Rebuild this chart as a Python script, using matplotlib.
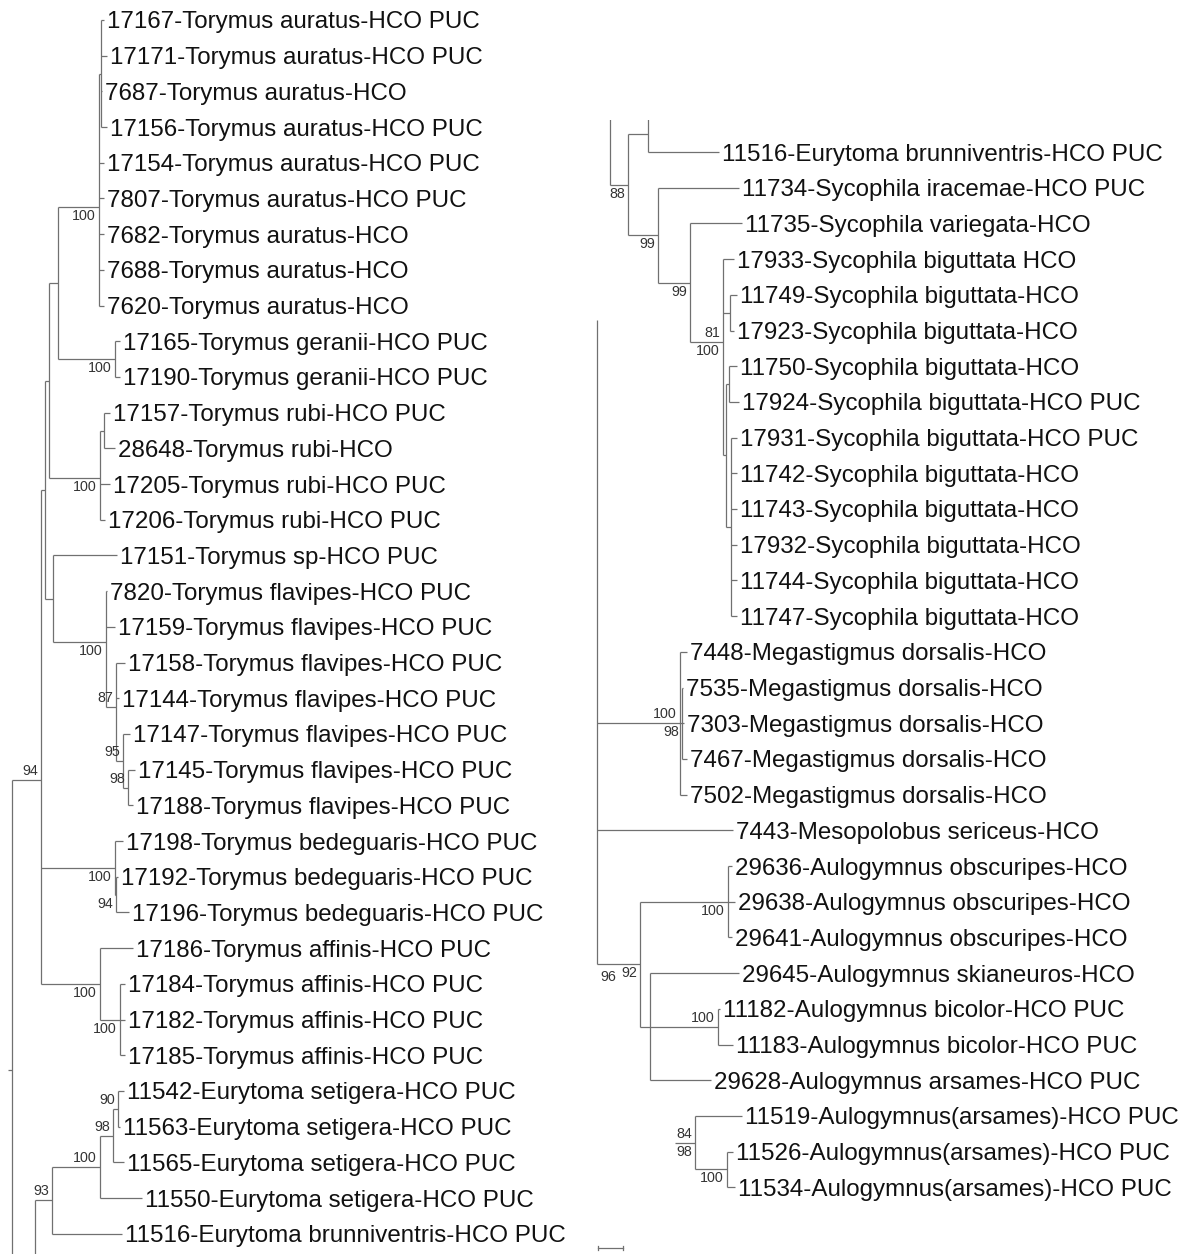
import numpy as np
import matplotlib
matplotlib.use("Agg")
import matplotlib.pyplot as plt

plt.rcParams['font.family'] = ['Liberation Sans', 'DejaVu Sans']

# ---- data -------------------------------------------------------------
left_labels = [
    "17167-Torymus auratus-HCO PUC", "17171-Torymus auratus-HCO PUC",
    "7687-Torymus auratus-HCO", "17156-Torymus auratus-HCO PUC",
    "17154-Torymus auratus-HCO PUC", "7807-Torymus auratus-HCO PUC",
    "7682-Torymus auratus-HCO", "7688-Torymus auratus-HCO",
    "7620-Torymus auratus-HCO", "17165-Torymus geranii-HCO PUC",
    "17190-Torymus geranii-HCO PUC", "17157-Torymus rubi-HCO PUC",
    "28648-Torymus rubi-HCO", "17205-Torymus rubi-HCO PUC",
    "17206-Torymus rubi-HCO PUC", "17151-Torymus sp-HCO PUC",
    "7820-Torymus flavipes-HCO PUC", "17159-Torymus flavipes-HCO PUC",
    "17158-Torymus flavipes-HCO PUC", "17144-Torymus flavipes-HCO PUC",
    "17147-Torymus flavipes-HCO PUC", "17145-Torymus flavipes-HCO PUC",
    "17188-Torymus flavipes-HCO PUC", "17198-Torymus bedeguaris-HCO PUC",
    "17192-Torymus bedeguaris-HCO PUC", "17196-Torymus bedeguaris-HCO PUC",
    "17186-Torymus affinis-HCO PUC", "17184-Torymus affinis-HCO PUC",
    "17182-Torymus affinis-HCO PUC", "17185-Torymus affinis-HCO PUC",
    "11542-Eurytoma setigera-HCO PUC", "11563-Eurytoma setigera-HCO PUC",
    "11565-Eurytoma setigera-HCO PUC", "11550-Eurytoma setigera-HCO PUC",
    "11516-Eurytoma brunniventris-HCO PUC",
]

right_labels = [
    "11516-Eurytoma brunniventris-HCO PUC", "11734-Sycophila iracemae-HCO PUC",
    "11735-Sycophila variegata-HCO", "17933-Sycophila biguttata HCO",
    "11749-Sycophila biguttata-HCO", "17923-Sycophila biguttata-HCO",
    "11750-Sycophila biguttata-HCO", "17924-Sycophila biguttata-HCO PUC",
    "17931-Sycophila biguttata-HCO PUC", "11742-Sycophila biguttata-HCO",
    "11743-Sycophila biguttata-HCO", "17932-Sycophila biguttata-HCO",
    "11744-Sycophila biguttata-HCO", "11747-Sycophila biguttata-HCO",
    "7448-Megastigmus dorsalis-HCO", "7535-Megastigmus dorsalis-HCO",
    "7303-Megastigmus dorsalis-HCO", "7467-Megastigmus dorsalis-HCO",
    "7502-Megastigmus dorsalis-HCO", "7443-Mesopolobus sericeus-HCO",
    "29636-Aulogymnus obscuripes-HCO", "29638-Aulogymnus obscuripes-HCO",
    "29641-Aulogymnus obscuripes-HCO", "29645-Aulogymnus skianeuros-HCO",
    "11182-Aulogymnus bicolor-HCO PUC", "11183-Aulogymnus bicolor-HCO PUC",
    "29628-Aulogymnus arsames-HCO PUC", "11519-Aulogymnus(arsames)-HCO PUC",
    "11526-Aulogymnus(arsames)-HCO PUC", "11534-Aulogymnus(arsames)-HCO PUC",
]

# newick topology: leaves are row indices into the label lists,
# "~r" = branch continuing off the page (hidden leaf at row r),
# node labels "a/b" = support above / below the stem
left_tree = (
    "(((("
    "(((0:3,1:6,2:1,3:6):2,4:5,5:5,6:5,7:5,8:5)100:41,(9:5,10:5)100:57):9,"
    "((11:6,12:11):4,13:10,14:5)100:51):4,"
    "(15:64,(16:1,17:9,(18:9,19:3,(20:7,(21:7,22:5)98/:5)95/:7)87/:10)100:53):8):4,"
    "(23:8,(24:2,25:13)94:1)100:74,"
    "(26:33,(27:5,28:5,29:5)100:20)100:59)94/:29,"
    "(((((30:6,31:2)90/:5,32:11)98/:13,33:42)100/:48,34:70)93/:17,~42:0):23):4"
)
left_origin = 8

right_trees = [
    (610, "(~-2:0,((~-1:0,0:71):20,(1:81,(2:52,(3:11,(4:7,5:4):7,"
          "((6:8,7:10):3,(8:6,9:6,10:6,11:6,12:6,13:6):5):3)81/100:33)99:32)99:30)88:18):0"),
    (597, "(~4.7:0,(14:7,(15:1,16:2,17:5)98:2,18:7)100/:83,19:136,"
          "((20:4,21:7,22:4)100:88,(23:89,(24:2,25:15)100/:68,26:61):10)92:43)96:0"),
    (675, "(27:47,(28:6,29:8)100:32)84/98:20"),
]

scale_len = 25

# ---- helpers ----------------------------------------------------------
def parse(s):
    pos = 0

    def node():
        nonlocal pos
        kids = []
        if s[pos] == '(':
            pos += 1
            while True:
                kids.append(node())
                if s[pos] == ',':
                    pos += 1
                    continue
                pos += 1
                break
        start = pos
        while pos < len(s) and s[pos] not in ':,)':
            pos += 1
        name = s[start:pos]
        length = 0.0
        if pos < len(s) and s[pos] == ':':
            pos += 1
            start = pos
            while pos < len(s) and s[pos] not in ',)':
                pos += 1
            length = float(s[start:pos])
        return {'name': name, 'len': length, 'kids': kids}

    return node()


def layout(n, x0):
    n['x'] = x0 + n['len']
    if n['kids']:
        for k in n['kids']:
            layout(k, n['x'])
        n['y'] = np.mean([k['y'] for k in n['kids']])
    else:
        n['hidden'] = n['name'].startswith('~')
        n['y'] = float(n['name'][1:]) if n['hidden'] else int(n['name'])


LC = '#707070'
LW = 0.9
ROW = 35.7  # pixels per row
SUP_FS = 10.3
LAB_FS = 17.35


def draw(ax, n, labels, px=None, is_root=False):
    if px is not None:
        ax.plot([px, n['x']], [n['y'], n['y']], color=LC, lw=LW,
                solid_capstyle='butt')
    if n['kids']:
        ys = [k['y'] for k in n['kids']]
        ax.plot([n['x'], n['x']], [min(ys), max(ys)], color=LC, lw=LW,
                solid_capstyle='butt')
        sup = n['name']
        if sup:
            if is_root and px is None:
                ax.text(n['x'] + 3, max(ys) + 0.15, sup, fontsize=SUP_FS,
                        color='#333333', ha='left', va='top')
            else:
                above, below = (sup.split('/') + [''])[:2] if '/' in sup else ('', sup)
                if above:
                    ax.text(n['x'] - 3, n['y'] - 2 / ROW, above, fontsize=SUP_FS,
                            color='#333333', ha='right', va='bottom')
                if below:
                    ax.text(n['x'] - 3, n['y'] + 2 / ROW, below, fontsize=SUP_FS,
                            color='#333333', ha='right', va='top')
        for k in n['kids']:
            draw(ax, k, labels, n['x'])
    elif not n['hidden']:
        ax.text(n['x'] + 3, n['y'], labels[int(n['name'])], fontsize=LAB_FS,
                ha='left', va='center_baseline', color='#111111')


# ---- figure -----------------------------------------------------------
W, H = 1183, 1254
fig = plt.figure(figsize=(W / 100, H / 100), dpi=100)

axL = fig.add_axes([0, 0, 580 / W, 1])
axL.set_xlim(0, 580)
axL.set_ylim((H - 20) / ROW, -20 / ROW)
root = parse(left_tree)
layout(root, left_origin)
draw(axL, root, left_labels, left_origin, is_root=True)

top_r = 120
axR = fig.add_axes([580 / W, 0, (W - 580) / W, (H - top_r) / H])
axR.set_xlim(580, W)
axR.set_ylim((H - 152) / ROW, -(152 - top_r) / ROW)
for origin, nw in right_trees:
    t = parse(nw)
    layout(t, origin)
    draw(axR, t, right_labels, origin if t['len'] > 0 else None, is_root=True)

# scale bar
sy = (1248 - 152) / ROW
axR.plot([598, 598 + scale_len], [sy, sy], color=LC, lw=LW)
axR.plot([598, 598], [sy - 0.06, sy + 0.06], color=LC, lw=LW)
axR.plot([598 + scale_len] * 2, [sy - 0.06, sy + 0.06], color=LC, lw=LW)

for ax in (axL, axR):
    ax.axis('off')

fig.savefig("out.png", dpi=100, facecolor='white')
